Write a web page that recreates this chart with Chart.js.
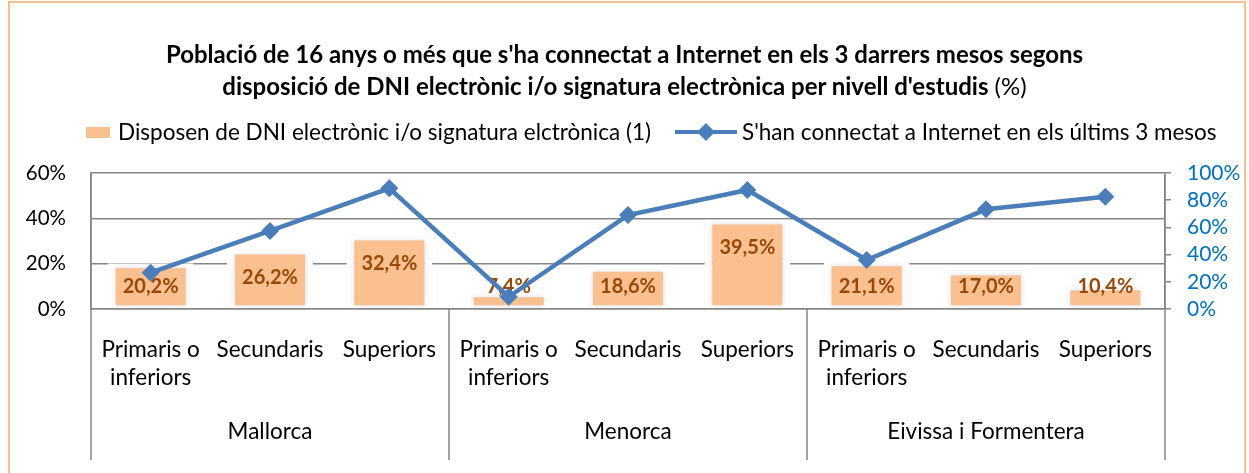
<!DOCTYPE html>
<html>
<head>
<meta charset="utf-8">
<script src="https://cdn.jsdelivr.net/npm/chart.js@4.4.1/dist/chart.umd.min.js"></script>
<style>
  body { margin: 0; background: #fff; font-family: Lato, "Open Sans", sans-serif; }
  #wrap { position: relative; width: 1249px; height: 473px; overflow: hidden; }
  #frame { position: absolute; left: 8px; top: 1px; width: 1238px; height: 490px; border: 2px solid #F9C08F; box-sizing: border-box; }
  #title { position: absolute; top: 38px; left: 0; width: 1249px; text-align: center; font-size: 24px; line-height: 32px; color: #000; }
  #title b { font-weight: bold; }
  .lg { position: absolute; top: 118px; height: 28px; font-size: 22.5px; line-height: 28px; color: #000; white-space: nowrap; }
  .sw { position: absolute; top: 127px; left: 86px; width: 24px; height: 11px; background: #FAC090; }
  #lsw { position: absolute; top: 122px; left: 675px; }
  canvas { position: absolute; left: 0; top: 0; }
</style>
</head>
<body>
<div id="wrap">
  <canvas id="chart" width="1249" height="473"></canvas>
  <div id="frame"></div>
  <div id="title"><b>Població de 16 anys o més que s'ha connectat a Internet en els 3 darrers mesos segons<br>disposició de DNI electrònic i/o signatura electrònica per nivell d'estudis</b> (%)</div>
  <span class="sw"></span><span class="lg" id="lg1" style="left:118px"></span>
  <svg id="lsw" width="62" height="20"><line x1="0" y1="10" x2="62" y2="10" stroke="#4A7EBB" stroke-width="4"/><polygon points="31,1 40,10 31,19 22,10" fill="#4A7EBB"/></svg>
  <span class="lg" id="lg2" style="left:742px"></span>
</div>
<script>
// categories and values
const categories = [["Primaris o", "inferiors"], "Secundaris", "Superiors",
                    ["Primaris o", "inferiors"], "Secundaris", "Superiors",
                    ["Primaris o", "inferiors"], "Secundaris", "Superiors"];
const islands = ["Mallorca", "Menorca", "Eivissa i Formentera"];
const dniLabel = "Disposen de DNI electrònic i/o signatura elctrònica (1)";
const netLabel = "S'han connectat a Internet en els últims 3 mesos";
const dniValues = [20.2, 26.2, 32.4, 7.4, 18.6, 39.5, 21.1, 17.0, 10.4];
const netValues = [26.7, 57.4, 88.7, 9.0, 69.1, 87.5, 36.0, 73.3, 82.6];
const leftMax = 60, leftStep = 20;
const rightMax = 100, rightStep = 20;

const el = (id) => document.getElementById(id);
el("lg1").textContent = dniLabel;
el("lg2").textContent = netLabel;

const pct = (v) => v.toFixed(1).replace(".", ",") + "%";
const AXIS = "#868686";
const FONT = "Lato, 'Open Sans', sans-serif";

// bar value labels, drawn right after the bars so the line stays on top
const barLabels = {
  id: "barLabels",
  afterDatasetDraw(chart, args){
    if (args.index !== 0) return;
    const ctx = chart.ctx;
    const base = chart.scales.y.getPixelForValue(0);
    ctx.save();
    ctx.font = "bold 20px " + FONT;
    ctx.fillStyle = "#984807";
    ctx.textAlign = "center";
    ctx.textBaseline = "middle";
    args.meta.data.forEach((bar, i) => {
      const y = Math.min(bar.y + 28, base - 22);
      ctx.fillText(pct(dniValues[i]), bar.x, y);
    });
    ctx.restore();
  }
};

// soft glow around the bars
const barShadow = {
  id: "barShadow",
  beforeDatasetDraw(chart, args){
    if (args.index !== 0) return;
    chart.ctx.save();
    chart.ctx.shadowColor = "rgba(0,0,0,0.14)";
    chart.ctx.shadowBlur = 6;
  },
  afterDatasetDraw(chart, args){
    if (args.index !== 0) return;
    chart.ctx.restore();
  }
};

// island group labels and separators under the axis
const groups = {
  id: "groups",
  afterDraw(chart){
    const ctx = chart.ctx, x = chart.scales.x, area = chart.chartArea;
    const half = (x.getPixelForValue(1) - x.getPixelForValue(0)) / 2;
    ctx.save();
    ctx.strokeStyle = AXIS;
    ctx.lineWidth = 1.5;
    for (let g = 0; g <= islands.length; g++){
      const px = g === islands.length ? x.getPixelForValue(g * 3 - 1) + half : x.getPixelForValue(g * 3) - half;
      ctx.beginPath();
      ctx.moveTo(px, g === 0 || g === islands.length ? area.top : area.bottom);
      ctx.lineTo(px, 460);
      ctx.stroke();
    }
    ctx.font = "22.5px " + FONT;
    ctx.fillStyle = "#000";
    ctx.textAlign = "center";
    ctx.textBaseline = "middle";
    islands.forEach((name, g) => {
      ctx.fillText(name, x.getPixelForValue(g * 3 + 1), 432);
    });
    ctx.restore();
  }
};

new Chart(el("chart").getContext("2d"), {
  data: {
    labels: categories,
    datasets: [
      {
        type: "bar",
        label: dniLabel,
        data: dniValues,
        yAxisID: "y",
        order: 1,
        backgroundColor: "#FAC090",
        borderColor: "#ffffff",
        borderWidth: { top: 5, left: 8, right: 8, bottom: 3 },
        borderSkipped: false,
        categoryPercentage: 1,
        barPercentage: 0.72
      },
      {
        type: "line",
        label: netLabel,
        data: netValues,
        yAxisID: "y1",
        order: 0,
        borderColor: "#4A7EBB",
        borderWidth: 4.5,
        pointStyle: "rectRot",
        pointRadius: 9,
        pointBackgroundColor: "#4A7EBB",
        pointBorderWidth: 0,
        tension: 0
      }
    ]
  },
  options: {
    responsive: false,
    animation: false,
    layout: { padding: { top: 173, left: 0, right: 0, bottom: 0 } },
    plugins: { legend: { display: false }, title: { display: false }, tooltip: { enabled: false } },
    scales: {
      x: {
        grid: { display: false },
        border: { display: true, color: AXIS, width: 1.5 },
        ticks: { color: "#000", padding: 19, maxRotation: 0, autoSkip: false, font: { family: FONT, size: 22.5, lineHeight: 1.25 } },
        afterFit(s){ s.height = 164; }
      },
      y: {
        position: "left",
        min: 0, max: leftMax,
        grid: { color: AXIS, lineWidth: 1.5, drawTicks: false },
        border: { display: true, color: AXIS, width: 1.5 },
        ticks: { stepSize: leftStep, autoSkip: false, padding: 25, color: "#000", font: { family: FONT, size: 20.5 }, callback: (v) => v + "%" },
        afterFit(s){ s.width = 91; }
      },
      y1: {
        position: "right",
        min: 0, max: rightMax,
        grid: { drawOnChartArea: false, color: AXIS, lineWidth: 1.5, tickLength: 6 },
        border: { display: true, color: AXIS, width: 1.5 },
        ticks: { stepSize: rightStep, autoSkip: false, padding: 16, color: "#0070C0", font: { family: FONT, size: 21 }, callback: (v) => v + "%" },
        afterFit(s){ s.width = 84; }
      }
    }
  },
  plugins: [barShadow, barLabels, groups]
});
</script>
</body>
</html>
